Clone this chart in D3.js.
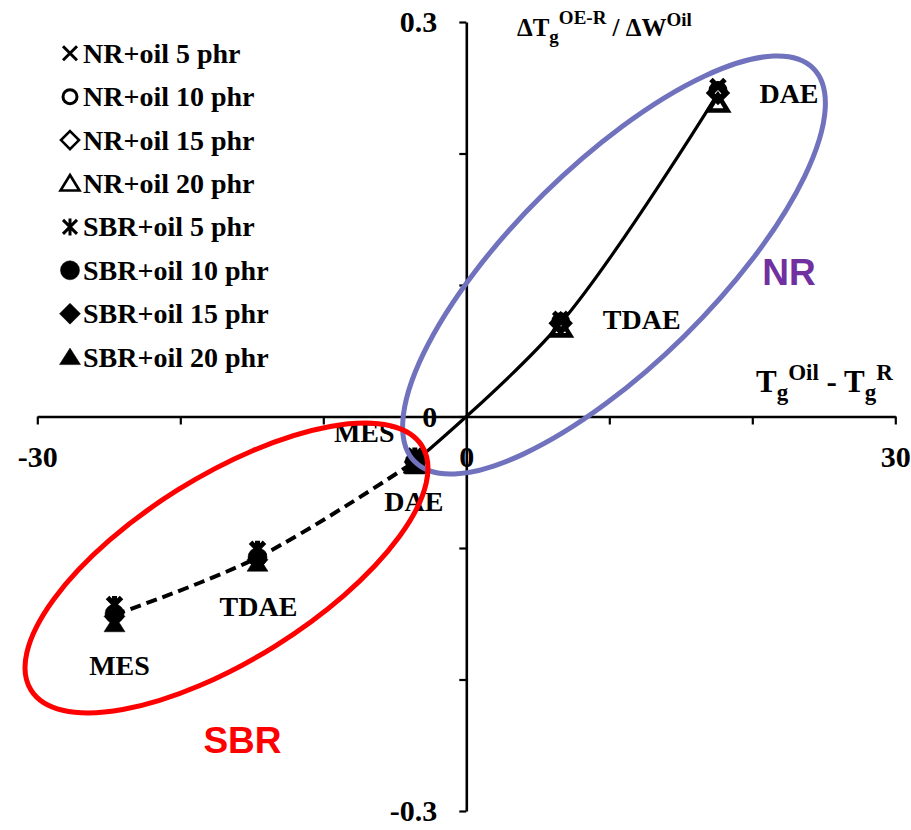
<!DOCTYPE html>
<html>
<head>
<meta charset="utf-8">
<script src="https://cdn.jsdelivr.net/npm/d3@7"></script>
<style>
  html, body { margin: 0; padding: 0; background: #fff; }
  svg { display: block; }
  .serif { font-family: "Liberation Serif", "Times New Roman", serif; font-weight: bold; }
  .sans { font-family: "Liberation Sans", Arial, sans-serif; font-weight: bold; }
</style>
</head>
<body>
<svg id="chart" width="911" height="830"></svg>
<script>
// Extender oils, in the order they are joined by the curves
const oils = ["MES", "TDAE", "DAE"];

// Tg(oil) - Tg(rubber), °C
const nrDeltaTg  = [-3.5, 6.6, 17.6];
const sbrDeltaTg = [-24.6, -14.6, -3.6];

// ΔTg(OE-R) / ΔW(oil) for each oil loading, MES / TDAE / DAE
const nrOil5   = [-0.031, 0.074, 0.251];
const nrOil10  = [-0.033, 0.072, 0.248];
const nrOil15  = [-0.034, 0.071, 0.246];
const nrOil20  = [-0.036, 0.067, 0.238];
const sbrOil5  = [-0.143, -0.101, -0.030];
const sbrOil10 = [-0.150, -0.107, -0.034];
const sbrOil15 = [-0.152, -0.109, -0.035];
const sbrOil20 = [-0.158, -0.112, -0.038];

const seriesNames = [
  "NR+oil 5 phr", "NR+oil 10 phr", "NR+oil 15 phr", "NR+oil 20 phr",
  "SBR+oil 5 phr", "SBR+oil 10 phr", "SBR+oil 15 phr", "SBR+oil 20 phr"
];

// axis ticks
const xTicks = [-30, -20, -10, 0, 10, 20, 30];
const xTickLabels = [-30, 0, 30];
const yTicks = [-0.3, -0.2, -0.1, 0, 0.1, 0.2, 0.3];
const yTickLabels = [-0.3, 0, 0.3];

// ---------------------------------------------------------------
const svg = d3.select("#chart");

const x = d3.scaleLinear().domain([-30, 30]).range([37.3, 895.3]);
const y = d3.scaleLinear().domain([-0.3, 0.3]).range([811, 22]);

const markerTypes = ["cross", "circleOpen", "diamondOpen", "triangleOpen",
                     "star", "circle", "diamond", "triangle"];

const series = [
  ...[nrOil5, nrOil10, nrOil15, nrOil20].map((ys, i) => ({
    name: seriesNames[i], group: "NR", marker: markerTypes[i],
    points: ys.map((v, j) => ({ oil: oils[j], x: nrDeltaTg[j], y: v }))
  })),
  ...[sbrOil5, sbrOil10, sbrOil15, sbrOil20].map((ys, i) => ({
    name: seriesNames[4 + i], group: "SBR", marker: markerTypes[4 + i],
    points: ys.map((v, j) => ({ oil: oils[j], x: sbrDeltaTg[j], y: v }))
  }))
];

function circlePath(r) {
  return `M${r},0A${r},${r} 0 1 1 ${-r},0A${r},${r} 0 1 1 ${r},0Z`;
}
const markerShapes = {
  cross:        { d: "M-7,-7L7,7M-7,7L7,-7", fill: "none", sw: 3 },
  star:         { d: "M-7,-7L7,7M-7,7L7,-7M0,-8.5L0,8.5", fill: "none", sw: 3 },
  circleOpen:   { d: circlePath(7), fill: "none", sw: 3 },
  diamondOpen:  { d: "M0,-9L9,0L0,9L-9,0Z", fill: "none", sw: 2.6 },
  triangleOpen: { d: "M0,-8.5L9.5,7L-9.5,7Z", fill: "none", sw: 2.6 },
  circle:       { d: circlePath(9.5), fill: "#000", sw: 0.5 },
  diamond:      { d: "M0,-10.5L10.5,0L0,10.5L-10.5,0Z", fill: "#000", sw: 0.5 },
  triangle:     { d: "M0,-9L10.5,7.5L-10.5,7.5Z", fill: "#000", sw: 0.5 }
};

// plotted open markers carry a heavier outline than the legend keys
function drawMarker(sel, type, heavy) {
  const m = markerShapes[type];
  const open = m.fill === "none";
  sel.append("path")
    .attr("d", m.d)
    .attr("fill", m.fill)
    .attr("stroke", "#000")
    .attr("stroke-width", heavy && open ? m.sw + 2 : m.sw)
    .attr("stroke-linejoin", "miter");
}

// ---------------- axes ----------------
const fmt = d => String(d);

const xAxis = d3.axisBottom(x)
  .tickValues(xTicks)
  .tickSize(8)
  .tickSizeOuter(0)
  .tickPadding(21)
  .tickFormat(d => xTickLabels.includes(d) ? fmt(d) : "");

const yAxis = d3.axisLeft(y)
  .tickValues(yTicks)
  .tickSize(7)
  .tickSizeOuter(0)
  .tickPadding(22)
  .tickFormat(d => yTickLabels.some(v => Math.abs(v - d) < 1e-9) ? fmt(d) : "");

const gx = svg.append("g")
  .attr("transform", `translate(0,${y(0)})`)
  .call(xAxis);
const gy = svg.append("g")
  .attr("transform", `translate(${x(0)},0)`)
  .call(yAxis);

[gx, gy].forEach(g => {
  g.select(".domain").attr("stroke", "#000").attr("stroke-width", 2.6);
  g.selectAll(".tick line").attr("stroke", "#000").attr("stroke-width", 2.2);
  g.selectAll(".tick text")
    .attr("class", "serif")
    .attr("fill", "#000")
    .style("font-size", "30px");
});

// axis titles
const yTitle = svg.append("text").attr("class", "serif")
  .attr("x", 517).attr("y", 36).style("font-size", "25px");
yTitle.append("tspan").text("ΔT");
yTitle.append("tspan").attr("dy", 7).style("font-size", "19px").text("g");
yTitle.append("tspan").attr("dy", -19).style("font-size", "19px").text("OE-R");
yTitle.append("tspan").attr("dy", 12).style("font-size", "25px").text(" / ΔW");
yTitle.append("tspan").attr("dy", -10).style("font-size", "19px").text("Oil");

const xTitle = svg.append("text").attr("class", "serif")
  .attr("x", 756).attr("y", 392).style("font-size", "31px");
xTitle.append("tspan").text("T");
xTitle.append("tspan").attr("dy", 8).style("font-size", "23px").text("g");
xTitle.append("tspan").attr("dy", -20).style("font-size", "23px").text("Oil");
xTitle.append("tspan").attr("dy", 12).style("font-size", "31px").text(" - T");
xTitle.append("tspan").attr("dy", 8).style("font-size", "23px").text("g");
xTitle.append("tspan").attr("dy", -20).style("font-size", "23px").text("R");

// ---------------- curves ----------------
// one smoothed curve per rubber, through the mean of its oil loadings
const groupStyles = { NR: { dash: null, width: 3.2 }, SBR: { dash: "11,6", width: 4 } };
const line = d3.line().x(d => x(d.x)).y(d => y(d.y)).curve(d3.curveCatmullRom.alpha(0.5));

["NR", "SBR"].forEach(gName => {
  const members = series.filter(s => s.group === gName);
  const mean = oils.map((oil, j) => ({
    x: d3.mean(members, s => s.points[j].x),
    y: d3.mean(members, s => s.points[j].y)
  }));
  svg.append("path")
    .datum(mean)
    .attr("d", line)
    .attr("fill", "none")
    .attr("stroke", "#000")
    .attr("stroke-width", groupStyles[gName].width)
    .attr("stroke-dasharray", groupStyles[gName].dash);
});

// ---------------- markers ----------------
series.forEach(s => {
  s.points.forEach(p => {
    const g = svg.append("g").attr("transform", `translate(${x(p.x)},${y(p.y)})`);
    drawMarker(g, s.marker, true);
  });
});

// ---------------- oil labels ----------------
const labelOffsets = {
  NR:  { MES: [-52, -27], TDAE: [81, -2], DAE: [71, 3] },
  SBR: { MES: [5, 52],   TDAE: [1, 49],  DAE: [-1, 40] }
};
["NR", "SBR"].forEach(gName => {
  const ref = series.find(s => s.group === gName && s.name.includes("10 phr"));
  ref.points.forEach(p => {
    const [dx, dy] = labelOffsets[gName][p.oil];
    svg.append("text").attr("class", "serif")
      .attr("x", x(p.x) + dx).attr("y", y(p.y) + dy)
      .attr("dy", "0.34em")
      .attr("text-anchor", "middle")
      .style("font-size", "28px")
      .text(p.oil);
  });
});

// ---------------- group outlines ----------------
const outlines = [
  { cx: 10.33, cy: 0.1152, rx: 280, ry: 100, angle: -44.6, color: "#7072BE", label: "NR",  lx: 22.57,  ly: 0.1103, lcolor: "#7030A0" },
  { cx: -16.77, cy: -0.1152, rx: 230.5, ry: 92, angle: -32, color: "#FF0000", label: "SBR", lx: -15.65, ly: -0.246, lcolor: "#FF0000" }
];
outlines.forEach(o => {
  svg.append("ellipse")
    .attr("transform", `translate(${x(o.cx)},${y(o.cy)}) rotate(${o.angle})`)
    .attr("rx", o.rx).attr("ry", o.ry)
    .attr("fill", "none")
    .attr("stroke", o.color)
    .attr("stroke-width", 5);
  svg.append("text").attr("class", "sans")
    .attr("x", x(o.lx)).attr("y", y(o.ly))
    .attr("dy", "0.36em")
    .attr("text-anchor", "middle")
    .attr("fill", o.lcolor)
    .style("font-size", "37px")
    .text(o.label);
});

// ---------------- legend ----------------
const legend = svg.append("g").attr("transform", "translate(70,53.3)");
series.forEach((s, i) => {
  const row = legend.append("g").attr("transform", `translate(0,${i * 43.4})`);
  drawMarker(row, s.marker, false);
  row.append("text").attr("class", "serif")
    .attr("x", 13).attr("dy", "0.34em")
    .style("font-size", "28px")
    .text(s.name);
});
</script>
</body>
</html>
